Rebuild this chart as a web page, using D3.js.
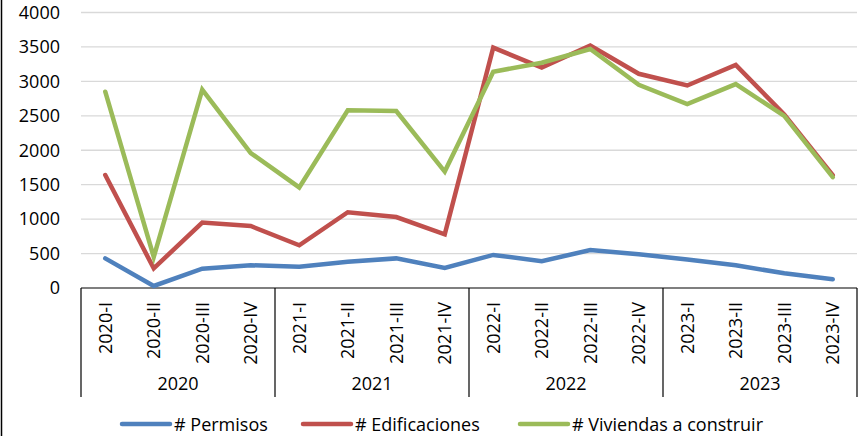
<!DOCTYPE html>
<html>
<head>
<meta charset="utf-8">
<script src="https://cdn.jsdelivr.net/npm/d3@7"></script>
<style>
  html, body { margin: 0; padding: 0; background: #fff; }
  svg { display: block; }
  text { font-family: "Open Sans", "Noto Sans", sans-serif; fill: #000; }
</style>
</head>
<body>
<svg id="chart" width="865" height="436"></svg>
<script>
const quarters = ["2020-I","2020-II","2020-III","2020-IV","2021-I","2021-II","2021-III","2021-IV",
                  "2022-I","2022-II","2022-III","2022-IV","2023-I","2023-II","2023-III","2023-IV"];
const years = ["2020","2021","2022","2023"];
const permisos = [430, 30, 280, 330, 310, 380, 430, 290, 480, 390, 550, 490, 415, 330, 213, 126];
const edificaciones = [1640, 285, 950, 900, 620, 1100, 1030, 780, 3490, 3200, 3520, 3110, 2940, 3240, 2520, 1640];
const viviendas = [2850, 450, 2880, 1960, 1460, 2580, 2570, 1690, 3140, 3270, 3470, 2950, 2670, 2960, 2500, 1610];
const yTicks = [0, 500, 1000, 1500, 2000, 2500, 3000, 3500, 4000];
const seriesNames = ["# Permisos", "# Edificaciones", "# Viviendas a construir"];
const seriesColors = ["#4F81BD", "#C0504D", "#9BBB59"];

(function () {
const svg = d3.select("#chart");
const pLeft = 81, pRight = 857, pTop = 12.5, pBottom = 288, axisBottom = 397;
const fs = 18;

const x = d3.scaleBand().domain(quarters).range([pLeft, pRight]);
const y = d3.scaleLinear().domain([0, 4000]).range([pBottom, pTop]);

// outer left border
svg.append("line").attr("x1", 1.5).attr("x2", 1.5).attr("y1", 0).attr("y2", 436)
  .attr("stroke", "#000").attr("stroke-width", 1.5);

// gridlines
svg.append("g").selectAll("line").data(yTicks.filter(d => d > 0)).join("line")
  .attr("x1", pLeft).attr("x2", pRight)
  .attr("y1", d => y(d)).attr("y2", d => y(d))
  .attr("stroke", "#d9d9d9").attr("stroke-width", 1.3);

// y axis labels
const yAxis = d3.axisLeft(y).tickValues(yTicks).tickSize(0).tickPadding(0).tickFormat(d3.format("d"));
const yg = svg.append("g").attr("transform", "translate(60,0)").call(yAxis);
yg.select(".domain").remove();
yg.selectAll("text").attr("font-size", fs).attr("font-family", "'Open Sans', sans-serif").attr("fill", "#000");

// x axis box
const axisG = svg.append("g");
axisG.append("line").attr("x1", pLeft).attr("x2", pRight).attr("y1", pBottom).attr("y2", pBottom)
  .attr("stroke", "#000").attr("stroke-width", 1.2);
const bounds = years.map((yr, i) => x(quarters[i * 4])).concat([pRight]);
axisG.selectAll("line.sep").data(bounds).join("line").attr("class", "sep")
  .attr("x1", d => d).attr("x2", d => d).attr("y1", pBottom).attr("y2", axisBottom)
  .attr("stroke", "#000").attr("stroke-width", 1.2);

// quarter labels
axisG.selectAll("text.q").data(quarters).join("text").attr("class", "q")
  .attr("transform", d => `translate(${x(d) + x.bandwidth() / 2 + 6.5},302) rotate(-90)`)
  .attr("text-anchor", "end").attr("font-size", fs).text(d => d);

// year labels
axisG.selectAll("text.yr").data(years).join("text").attr("class", "yr")
  .attr("x", (d, i) => (bounds[i] + bounds[i + 1]) / 2).attr("y", 390)
  .attr("text-anchor", "middle").attr("font-size", fs).text(d => d);

// lines
const line = d3.line().x((d, i) => x(quarters[i]) + x.bandwidth() / 2).y(d => y(d));
[permisos, edificaciones, viviendas].forEach((s, i) => {
  svg.append("path").datum(s).attr("d", line)
    .attr("fill", "none").attr("stroke", seriesColors[i]).attr("stroke-width", 4.5)
    .attr("stroke-linejoin", "miter").attr("stroke-linecap", "round");
});

// legend
const legendX = [122, 303, 520];
const lg = svg.append("g");
seriesNames.forEach((n, i) => {
  lg.append("line").attr("x1", legendX[i]).attr("x2", legendX[i] + 48).attr("y1", 424).attr("y2", 424)
    .attr("stroke", seriesColors[i]).attr("stroke-width", 4.5).attr("stroke-linecap", "round");
  lg.append("text").attr("x", legendX[i] + 52).attr("y", 430.5).attr("font-size", fs).text(n);
});
})();
</script>
</body>
</html>
